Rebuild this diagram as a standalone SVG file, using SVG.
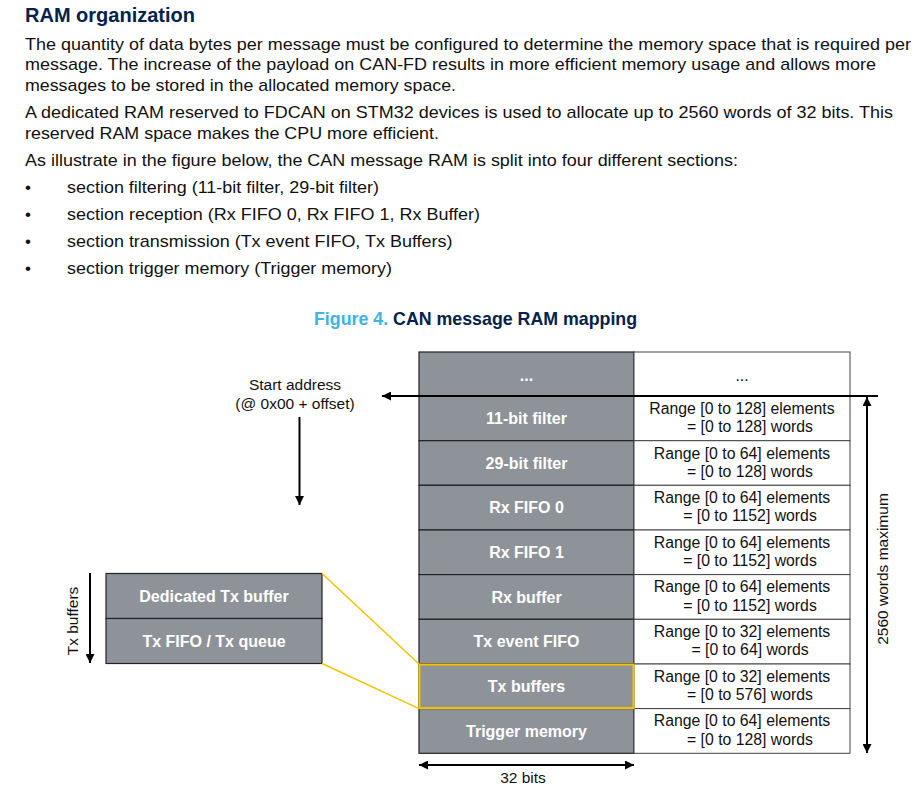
<svg xmlns="http://www.w3.org/2000/svg" width="918" height="797" viewBox="0 0 918 797">
<defs>
<style>
text{font-family:"Liberation Sans",Arial,sans-serif}
.h{font-size:20px;font-weight:bold;fill:#03234b}
.b{font-size:17px;fill:#111}
.ft{font-size:17.8px;font-weight:bold;fill:#03234b}
.fn{fill:#3cb4e6}
.g{fill:#8e9399;stroke:#222;stroke-width:1.2}
.w{fill:#fff;stroke:#444;stroke-width:1}
.gl{font-size:16px;font-weight:bold;fill:#fff;text-anchor:middle}
.cl{font-size:15.8px;fill:#111;text-anchor:middle}
.lb{font-size:15.5px;fill:#111;text-anchor:middle}
.ar{stroke:#000;stroke-width:2;fill:none}
.y{stroke:#f4c400;stroke-width:1.5;fill:none}
</style>
<marker id="ah" viewBox="0 0 10 10" refX="10" refY="5" markerWidth="13" markerHeight="9" markerUnits="userSpaceOnUse" orient="auto-start-reverse">
<path d="M0,0 L10,5 L0,10 Z" fill="#000"/>
</marker>
</defs>
<rect width="918" height="797" fill="#fff"/>

<g id="text">
<text class="h" x="25" y="22">RAM organization</text>
<text class="b" x="25" y="50" textLength="886" lengthAdjust="spacingAndGlyphs">The quantity of data bytes per message must be configured to determine the memory space that is required per</text>
<text class="b" x="25" y="70" textLength="851" lengthAdjust="spacingAndGlyphs">message. The increase of the payload on CAN-FD results in more efficient memory usage and allows more</text>
<text class="b" x="25" y="91" textLength="431" lengthAdjust="spacingAndGlyphs">messages to be stored in the allocated memory space.</text>
<text class="b" x="25" y="118" textLength="868" lengthAdjust="spacingAndGlyphs">A dedicated RAM reserved to FDCAN on STM32 devices is used to allocate up to 2560 words of 32 bits. This</text>
<text class="b" x="25" y="139" textLength="414" lengthAdjust="spacingAndGlyphs">reserved RAM space makes the CPU more efficient.</text>
<text class="b" x="25" y="166" textLength="713" lengthAdjust="spacingAndGlyphs">As illustrate in the figure below, the CAN message RAM is split into four different sections:</text>
<text class="b" x="25" y="193">•</text><text class="b" x="67" y="193" textLength="312" lengthAdjust="spacingAndGlyphs">section filtering (11-bit filter, 29-bit filter)</text>
<text class="b" x="25" y="220">•</text><text class="b" x="67" y="220" textLength="413" lengthAdjust="spacingAndGlyphs">section reception (Rx FIFO 0, Rx FIFO 1, Rx Buffer)</text>
<text class="b" x="25" y="247">•</text><text class="b" x="67" y="247" textLength="385.5" lengthAdjust="spacingAndGlyphs">section transmission (Tx event FIFO, Tx Buffers)</text>
<text class="b" x="25" y="274">•</text><text class="b" x="67" y="274" textLength="325" lengthAdjust="spacingAndGlyphs">section trigger memory (Trigger memory)</text>
<text class="ft" x="314" y="325"><tspan class="fn">Figure 4.</tspan> CAN message RAM mapping</text>
</g>

<g id="ram-header">
<rect class="g" x="419" y="352" width="215" height="44"/>
<text class="gl" x="526.5" y="381">...</text>
<rect class="w" x="634" y="352" width="216" height="44"/>
<text class="cl" x="742" y="381">...</text>
</g>
<g id="row-11bit">
<rect class="g" x="419" y="396" width="215" height="44.7"/>
<text class="gl" x="526.5" y="424">11-bit filter</text>
<rect class="w" x="634" y="396" width="216" height="44.7"/>
<text class="cl" x="742" y="413.8">Range [0 to 128] elements</text>
<text class="cl" x="750" y="432">= [0 to 128] words</text>
</g>
<g id="row-29bit">
<rect class="g" x="419" y="440.7" width="215" height="44.6"/>
<text class="gl" x="526.5" y="468.7">29-bit filter</text>
<rect class="w" x="634" y="440.7" width="216" height="44.6"/>
<text class="cl" x="742" y="458.5">Range [0 to 64] elements</text>
<text class="cl" x="750" y="476.7">= [0 to 128] words</text>
</g>
<g id="row-rxfifo0">
<rect class="g" x="419" y="485.3" width="215" height="44.7"/>
<text class="gl" x="526.5" y="513.3">Rx FIFO 0</text>
<rect class="w" x="634" y="485.3" width="216" height="44.7"/>
<text class="cl" x="742" y="503.1">Range [0 to 64] elements</text>
<text class="cl" x="750" y="521.3">= [0 to 1152] words</text>
</g>
<g id="row-rxfifo1">
<rect class="g" x="419" y="530" width="215" height="44.6"/>
<text class="gl" x="526.5" y="558">Rx FIFO 1</text>
<rect class="w" x="634" y="530" width="216" height="44.6"/>
<text class="cl" x="742" y="547.8">Range [0 to 64] elements</text>
<text class="cl" x="750" y="566">= [0 to 1152] words</text>
</g>
<g id="row-rxbuffer">
<rect class="g" x="419" y="574.6" width="215" height="44.7"/>
<text class="gl" x="526.5" y="602.6">Rx buffer</text>
<rect class="w" x="634" y="574.6" width="216" height="44.7"/>
<text class="cl" x="742" y="592.4">Range [0 to 64] elements</text>
<text class="cl" x="750" y="610.6">= [0 to 1152] words</text>
</g>
<g id="row-txevent">
<rect class="g" x="419" y="619.3" width="215" height="44.7"/>
<text class="gl" x="526.5" y="647.3">Tx event FIFO</text>
<rect class="w" x="634" y="619.3" width="216" height="44.7"/>
<text class="cl" x="742" y="637.1">Range [0 to 32] elements</text>
<text class="cl" x="750" y="655.3">= [0 to 64] words</text>
</g>
<g id="row-txbuffers">
<rect class="g" x="419" y="664" width="215" height="44.6"/>
<text class="gl" x="526.5" y="692">Tx buffers</text>
<rect class="w" x="634" y="664" width="216" height="44.6"/>
<text class="cl" x="742" y="681.8">Range [0 to 32] elements</text>
<text class="cl" x="750" y="700">= [0 to 576] words</text>
</g>
<g id="row-trigger">
<rect class="g" x="419" y="708.6" width="215" height="44.7"/>
<text class="gl" x="526.5" y="736.6">Trigger memory</text>
<rect class="w" x="634" y="708.6" width="216" height="44.7"/>
<text class="cl" x="742" y="726.4">Range [0 to 64] elements</text>
<text class="cl" x="750" y="744.6">= [0 to 128] words</text>
</g>

<g id="tx-dedicated">
<rect class="g" x="106" y="573.5" width="216" height="45"/>
<text class="gl" x="214" y="601.5">Dedicated Tx buffer</text>
</g>
<g id="tx-fifo">
<rect class="g" x="106" y="618.5" width="216" height="45"/>
<text class="gl" x="214" y="646.5">Tx FIFO / Tx queue</text>
</g>

<g id="labels">
<text class="lb" x="295" y="390">Start address</text>
<text class="lb" x="295" y="409">(@ 0x00 + offset)</text>
<text class="lb" x="523" y="783">32 bits</text>
<text class="lb" transform="translate(887.5,569) rotate(-90)">2560 words maximum</text>
<text class="lb" transform="translate(77.5,621) rotate(-90)">Tx buffers</text>
</g>

<g id="connectors">
<line class="ar" x1="878" y1="396" x2="382" y2="396" marker-end="url(#ah)"/>
<line class="ar" x1="299.5" y1="417" x2="299.5" y2="505" marker-end="url(#ah)"/>
<line class="ar" x1="867" y1="397" x2="867" y2="753" marker-start="url(#ah)" marker-end="url(#ah)"/>
<line class="ar" x1="419" y1="765" x2="634" y2="765" marker-start="url(#ah)" marker-end="url(#ah)"/>
<line class="ar" x1="90" y1="573" x2="90" y2="663" marker-end="url(#ah)"/>
<line class="y" x1="322" y1="573.5" x2="419" y2="664"/>
<line class="y" x1="322" y1="663.5" x2="419" y2="708.6"/>
<rect x="419.5" y="664.5" width="214" height="43.6" fill="none" stroke="#f4c400" stroke-width="2"/>
</g>
</svg>
